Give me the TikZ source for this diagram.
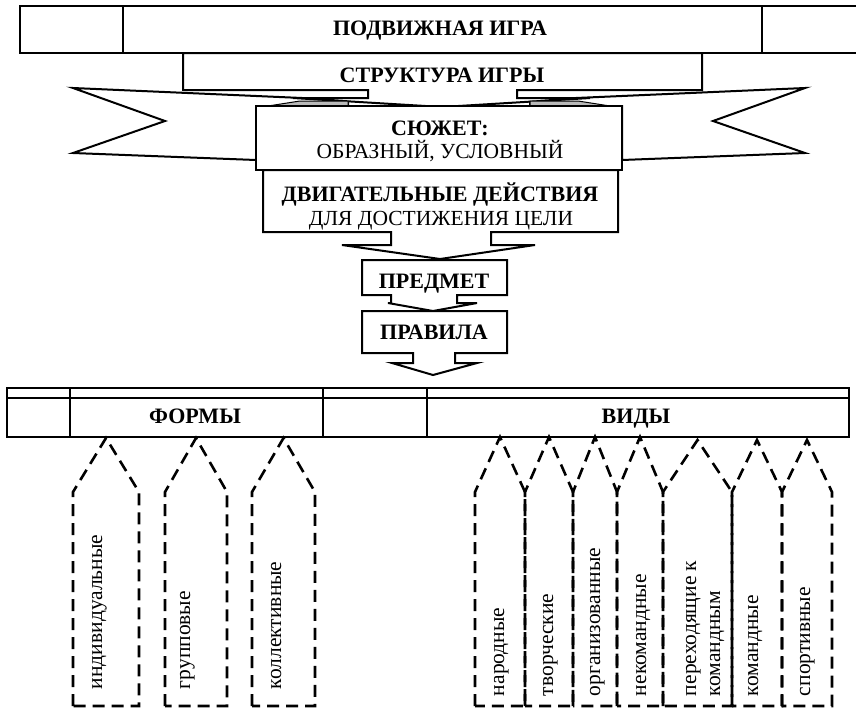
\documentclass[tikz,border=0pt]{standalone}
\usepackage{fontspec}
\setmainfont{Liberation Serif}
\begin{document}
\begin{tikzpicture}[x=1pt, y=-1pt, line width=2pt,
  capsfont/.style={font=\fontsize{22}{26}\selectfont\bfseries, anchor=base, inner sep=0pt},
  plainfont/.style={font=\fontsize{21.5}{26}\selectfont, anchor=base, inner sep=0pt},
  dashbox/.style={line width=2.6pt, dash pattern=on 12pt off 7pt},
  sidelabel/.style={font=\fontsize{21.5}{26}\selectfont, rotate=90, anchor=base west, inner sep=0pt}]

  \useasboundingbox (0,0) rectangle (856,710);

  % Top bar
  \draw (20,6) rectangle (860,53);
  \draw (123,6) -- (123,53);
  \draw (762,6) -- (762,53);
  \node[capsfont] (game) at (440,35) {ПОДВИЖНАЯ ИГРА};

  % Ribbon tails
  \draw[fill=white] (73,88) -- (348,100) -- (348,106) -- (256,106) -- (256,160) -- (73,153) -- (165,121) -- cycle;
  \draw[fill=white] (805,88) -- (530,100) -- (530,106) -- (622,106) -- (622,160) -- (805,153) -- (713,121) -- cycle;

  % Structure callout
  \draw[fill=white] (183,53) -- (702,53) -- (702,90) -- (517,90) -- (517,98) -- (590,98) -- (442,107)
    -- (293,98) -- (368,98) -- (368,90) -- (183,90) -- cycle;
  \node[capsfont] (structure) at (442,82) {СТРУКТУРА ИГРЫ};

  % Ribbon folds
  \draw[fill=gray!55, line width=1pt] (300,101) -- (348,101) -- (348,106) -- (268,106) -- cycle;
  \draw[fill=gray!55, line width=1pt] (578,101) -- (530,101) -- (530,106) -- (610,106) -- cycle;

  % Plot panel
  \draw[fill=white] (256,106) rectangle (622,170);
  \node[capsfont] (plot) at (440,135) {СЮЖЕТ:};
  \node[plainfont] (plotkind) at (440,158.5) {ОБРАЗНЫЙ, УСЛОВНЫЙ};

  % Motor actions callout
  \draw[fill=white] (263,170) -- (618,170) -- (618,232) -- (491,232) -- (491,245) -- (535,245) -- (440,259)
    -- (342,245) -- (391,245) -- (391,232) -- (263,232) -- cycle;
  \node[capsfont] (actions) at (440,201) {ДВИГАТЕЛЬНЫЕ ДЕЙСТВИЯ};
  \node[plainfont] (goal) at (441,225.5) {ДЛЯ ДОСТИЖЕНИЯ ЦЕЛИ};

  % Object callout
  \draw[fill=white] (362,260) -- (507,260) -- (507,295) -- (457,295) -- (457,303) -- (477,303) -- (433,311)
    -- (388,303) -- (391,303) -- (391,295) -- (362,295) -- cycle;
  \node[capsfont] (object) at (434,288) {ПРЕДМЕТ};

  % Rules callout
  \draw[fill=white] (362,311) -- (507,311) -- (507,353) -- (455,353) -- (455,363) -- (477,363) -- (433,375)
    -- (392,363) -- (413,363) -- (413,353) -- (362,353) -- cycle;
  \node[capsfont] (rules) at (434,339) {ПРАВИЛА};

  % Bottom table
  \draw (7,388) rectangle (849,437);
  \draw (7,398) -- (849,398);
  \foreach \x in {70,323,427}
    \draw (\x,388) -- (\x,437);
  \node[capsfont] (forms) at (195,423) {ФОРМЫ};
  \node[capsfont] (kinds) at (636,423) {ВИДЫ};

  % Dashed pointers
  \foreach \l/\r/\t in {73/139/438, 165/227/438, 252/315/438, 475/525/437, 525/573/437,
      573/617/437, 617/663/437, 663/732/440, 732/782/440, 782/832/440}
    \draw[dashbox] (\l,706) -- (\l,492) -- ({(\l+\r)/2},\t) -- (\r,492) -- (\r,706) -- cycle;

  % Labels of forms
  \node[sidelabel] (individual) at (102,690) {индивидуальные};
  \node[sidelabel] (group) at (190,690) {групповые};
  \node[sidelabel] (collective) at (281,690) {коллективные};

  % Labels of kinds
  \node[sidelabel] (folk) at (504,697) {народные};
  \node[sidelabel] (creative) at (553,697) {творческие};
  \node[sidelabel] (organized) at (600,697) {организованные};
  \node[sidelabel] (nonteam) at (646,697) {некомандные};
  \node[sidelabel] (transit) at (696,697) {переходящие к};
  \node[sidelabel] (transitb) at (720,697) {командным};
  \node[sidelabel] (team) at (758,697) {командные};
  \node[sidelabel] (sport) at (810,697) {спортивные};

\end{tikzpicture}
\end{document}
